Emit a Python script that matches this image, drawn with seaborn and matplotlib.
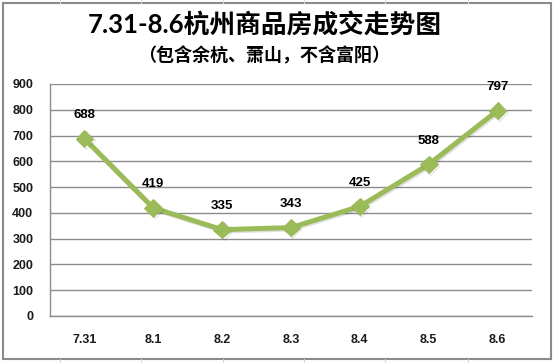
import numpy as np
import pandas as pd
import seaborn as sns
import matplotlib.pyplot as plt
import matplotlib.patheffects as pe
from matplotlib.patches import Rectangle

dates = ['7.31', '8.1', '8.2', '8.3', '8.4', '8.5', '8.6']
sales = [688, 419, 335, 343, 425, 588, 797]
yticks = [0, 100, 200, 300, 400, 500, 600, 700, 800, 900]

title = '7.31-8.6杭州商品房成交走势图'
subtitle = '（包含余杭、萧山，不含富阳）'

sns.set_style('white')
plt.rcParams['font.family'] = ['Liberation Sans', 'Noto Sans CJK SC', 'DejaVu Sans']

df = pd.DataFrame({'date': dates, 'sales': sales})

fig = plt.figure(figsize=(5.54, 3.63), dpi=100)
ax = fig.add_axes([50/554, 47/363, 482/554, 232/363])

green = '#9BBB59'
sns.lineplot(x='date', y='sales', data=df, ax=ax, color=green, lw=3.6,
             marker='D', markersize=9, markeredgecolor=green,
             path_effects=[pe.SimpleLineShadow(offset=(1, -1), alpha=0.12), pe.Normal()])

for i, v in enumerate(sales):
    ax.annotate(str(v), (i, v), xytext=(0, 17), textcoords='offset points',
                ha='center', va='center', fontsize=9.5, fontweight='bold', color='black')

ax.set_xlim(-0.5, len(dates) - 0.5)
ax.set_ylim(0, 900)
ax.set_yticks(yticks)
ax.set_xlabel('')
ax.set_ylabel('')
ax.grid(axis='y', color='#8c8c8c', lw=1)
ax.grid(axis='x', visible=False)
ax.set_axisbelow(True)
for s in ['top', 'right']:
    ax.spines[s].set_visible(False)
for s in ['left', 'bottom']:
    ax.spines[s].set_color('#8c8c8c')
    ax.spines[s].set_linewidth(1)
ax.tick_params(axis='y', length=0, pad=12, labelsize=9)
ax.tick_params(axis='x', length=0, pad=13, labelsize=9)
for lab in ax.get_xticklabels() + ax.get_yticklabels():
    lab.set_fontweight('bold')
    lab.set_color('#1a1a1a')

fig.text(265/554, 1 - 25/363, title, ha='center', va='center',
         fontsize=18.5, fontweight='bold', color='black',
         family=['Lato', 'Noto Sans CJK SC', 'DejaVu Sans'])
fig.text(264/554, 1 - 56/363, subtitle, ha='center', va='center',
         fontsize=13, fontweight='bold', color='black',
         family=['Noto Sans CJK SC', 'DejaVu Sans'])

# chart frame and faint sheet cell lines around it
fig.patches.append(Rectangle((3/554, 4/363), 548/554, 356/363, transform=fig.transFigure,
                             fill=False, edgecolor='#8a8a8a', lw=1.5))
for x in [60, 141, 223, 304, 385, 468]:
    fig.add_artist(plt.Line2D([x/554, x/554], [0, 4/363], color='#d9d9d9', lw=0.8))
    fig.add_artist(plt.Line2D([x/554, x/554], [360/363, 1], color='#d9d9d9', lw=0.8))

fig.savefig('out.png', dpi=100)
